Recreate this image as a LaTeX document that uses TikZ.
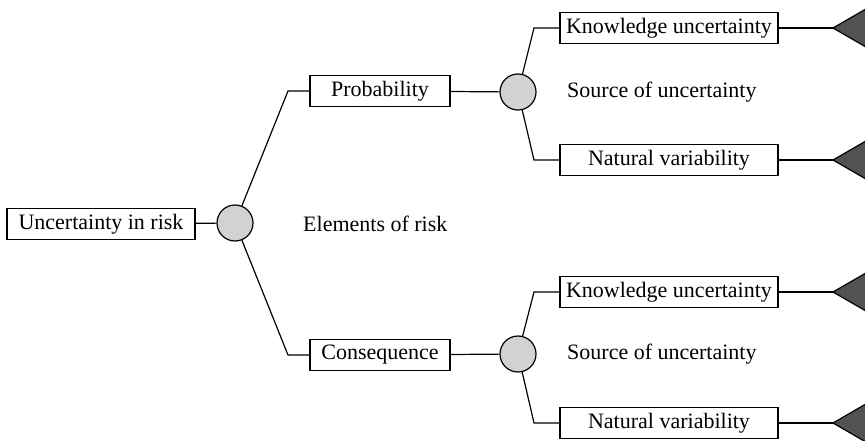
\documentclass[tikz,border=0pt]{standalone}
\usepackage{fontspec}
\setmainfont{Liberation Serif}
\begin{document}
\begin{tikzpicture}[x=1pt,y=-1pt,
  every node/.style={font=\fontsize{22}{26}\selectfont, inner sep=0pt},
  conn/.style={line width=1.2pt, black},
  labelbox/.style={draw=black, line width=1.2pt, fill=white, minimum height=31pt, align=center},
  chance/.style={circle, draw=black, line width=1.2pt, fill=gray!35!white, minimum size=36pt},
  endtri/.style={draw=black, line width=1.2pt, fill=black!68},
  note/.style={anchor=west}
]
\clip (0,0) rectangle (865,441);
\fill[white] (0,0) rectangle (865,441);

% root and first chance node
\node[labelbox, minimum width=188pt] (root) at (101,224) {Uncertainty in risk};
\node[chance] (c1) at (235,223) {};
\node[note] (elem) at (303,224) {Elements of risk};

% upper branch: probability
\node[labelbox, minimum width=140pt] (prob) at (380,91) {Probability};
\node[chance] (c2) at (518,92) {};
\node[note] (src1) at (567,92) {Source of uncertainty};
\node[labelbox, minimum width=218pt] (ku1) at (669,28) {Knowledge uncertainty};
\node[labelbox, minimum width=218pt] (nv1) at (669,160) {Natural variability};

% lower branch: consequence
\node[labelbox, minimum width=140pt] (cons) at (380,355) {Consequence};
\node[chance] (c3) at (518,354) {};
\node[note] (src2) at (567,354) {Source of uncertainty};
\node[labelbox, minimum width=218pt] (ku2) at (669,292) {Knowledge uncertainty};
\node[labelbox, minimum width=218pt] (nv2) at (669,423) {Natural variability};

% elbow points
\coordinate (k1) at (288,91);
\coordinate (k2) at (288,355);
\coordinate (k3) at (534,28);
\coordinate (k4) at (534,160);
\coordinate (k5) at (534,292);
\coordinate (k6) at (534,423);

% terminal tips
\coordinate (t1) at (833,28);
\coordinate (t2) at (833,160);
\coordinate (t3) at (833,292);
\coordinate (t4) at (833,423);

% connectors
\draw[conn] (root) -- (c1);
\draw[conn] (c1) -- (k1) -- (prob.west);
\draw[conn] (c1) -- (k2) -- (cons.west);
\draw[conn] (prob) -- (c2);
\draw[conn] (cons) -- (c3);
\draw[conn] (c2) -- (k3) -- (ku1.west);
\draw[conn] (c2) -- (k4) -- (nv1.west);
\draw[conn] (c3) -- (k5) -- (ku2.west);
\draw[conn] (c3) -- (k6) -- (nv2.west);
\draw[conn] (ku1) -- (t1);
\draw[conn] (nv1) -- (t2);
\draw[conn] (ku2) -- (t3);
\draw[conn] (nv2) -- (t4);

% terminal triangles
\foreach \t in {t1,t2,t3,t4}{
  \draw[endtri] (\t) -- ++(45,-26) -- ++(0,52) -- cycle;
}
\end{tikzpicture}
\end{document}
